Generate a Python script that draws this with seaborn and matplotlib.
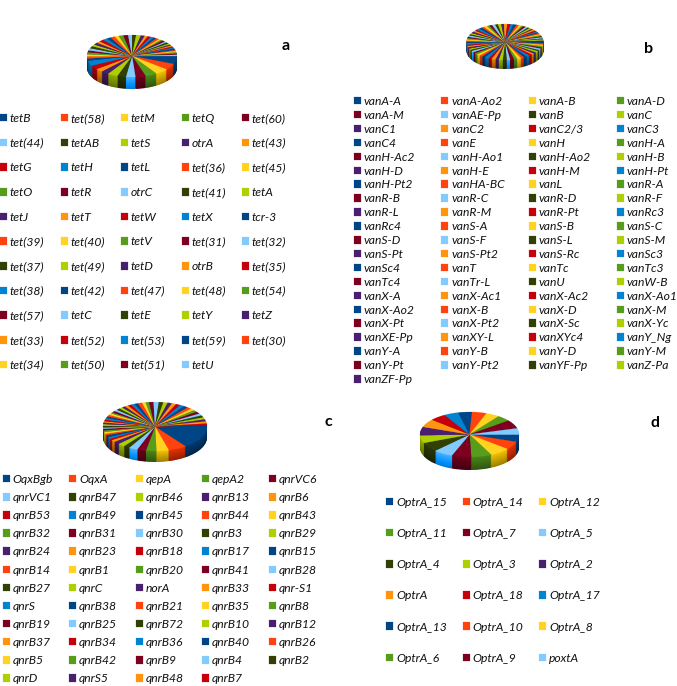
import colorsys

import matplotlib
matplotlib.use('Agg')
import matplotlib.pyplot as plt
import seaborn as sns

W, H = 677, 686

colours = ['#004586', '#ff420e', '#ffd320', '#579d1c', '#7e0021', '#83caff',
           '#314004', '#aecf00', '#4b1f6f', '#ff950e', '#c5000b', '#0084d1']

tet_labels = ['tetB', 'tet(58)', 'tetM', 'tetQ', 'tet(60)',
              'tet(44)', 'tetAB', 'tetS', 'otrA', 'tet(43)',
              'tetG', 'tetH', 'tetL', 'tet(36)', 'tet(45)',
              'tetO', 'tetR', 'otrC', 'tet(41)', 'tetA',
              'tetJ', 'tetT', 'tetW', 'tetX', 'tcr-3',
              'tet(39)', 'tet(40)', 'tetV', 'tet(31)', 'tet(32)',
              'tet(37)', 'tet(49)', 'tetD', 'otrB', 'tet(35)',
              'tet(38)', 'tet(42)', 'tet(47)', 'tet(48)', 'tet(54)',
              'tet(57)', 'tetC', 'tetE', 'tetY', 'tetZ',
              'tet(33)', 'tet(52)', 'tet(53)', 'tet(59)', 'tet(30)',
              'tet(34)', 'tet(50)', 'tet(51)', 'tetU']
tet_values = [22, 17, 17, 15, 13, 12, 11, 13, 10, 9, 11, 14,
              6, 6, 5, 6, 5, 6, 6, 5, 6, 5, 6, 6, 5, 6, 5, 6, 6, 5, 5,
              6, 5, 4, 4, 4, 4, 4, 3, 3, 4, 3, 4, 3, 3, 3, 3, 3, 4, 3, 3, 4, 3, 3]

van_labels = ['vanA-A', 'vanA-Ao2', 'vanA-B', 'vanA-D',
              'vanA-M', 'vanAE-Pp', 'vanB', 'vanC',
              'vanC1', 'vanC2', 'vanC2/3', 'vanC3',
              'vanC4', 'vanE', 'vanH', 'vanH-A',
              'vanH-Ac2', 'vanH-Ao1', 'vanH-Ao2', 'vanH-B',
              'vanH-D', 'vanH-E', 'vanH-M', 'vanH-Pt',
              'vanH-Pt2', 'vanHA-BC', 'vanL', 'vanR-A',
              'vanR-B', 'vanR-C', 'vanR-D', 'vanR-F',
              'vanR-L', 'vanR-M', 'vanR-Pt', 'vanRc3',
              'vanRc4', 'vanS-A', 'vanS-B', 'vanS-C',
              'vanS-D', 'vanS-F', 'vanS-L', 'vanS-M',
              'vanS-Pt', 'vanS-Pt2', 'vanS-Rc', 'vanSc3',
              'vanSc4', 'vanT', 'vanTc', 'vanTc3',
              'vanTc4', 'vanTr-L', 'vanU', 'vanW-B',
              'vanX-A', 'vanX-Ac1', 'vanX-Ac2', 'vanX-Ao1',
              'vanX-Ao2', 'vanX-B', 'vanX-D', 'vanX-M',
              'vanX-Pt', 'vanX-Pt2', 'vanX-Sc', 'vanX-Yc',
              'vanXE-Pp', 'vanXY-L', 'vanXYc4', 'vanY_Ng',
              'vanY-A', 'vanY-B', 'vanY-D', 'vanY-M',
              'vanY-Pt', 'vanY-Pt2', 'vanYF-Pp', 'vanZ-Pa',
              'vanZF-Pp']
van_values = [5, 4, 4, 5, 4, 5, 4, 5, 5, 4, 5, 5, 5, 5, 6, 5, 6, 5, 6, 6, 5,
              6, 5, 6, 5, 5, 5, 5, 4, 5, 4, 4, 5, 4, 4, 5, 4, 4, 4, 4, 4,
              5, 4, 4, 5, 4, 4, 5, 5, 4, 5, 4, 4, 5, 4, 5, 4, 5, 5, 4, 5,
              4, 4, 3, 4, 4, 3, 4, 3, 4, 4, 3, 3, 4, 3, 4, 3, 4, 3, 4, 4]

qnr_labels = ['OqxBgb', 'OqxA', 'qepA', 'qepA2', 'qnrVC6',
              'qnrVC1', 'qnrB47', 'qnrB46', 'qnrB13', 'qnrB6',
              'qnrB53', 'qnrB49', 'qnrB45', 'qnrB44', 'qnrB43',
              'qnrB32', 'qnrB31', 'qnrB30', 'qnrB3', 'qnrB29',
              'qnrB24', 'qnrB23', 'qnrB18', 'qnrB17', 'qnrB15',
              'qnrB14', 'qnrB1', 'qnrB20', 'qnrB41', 'qnrB28',
              'qnrB27', 'qnrC', 'norA', 'qnrB33', 'qnr-S1',
              'qnrS', 'qnrB38', 'qnrB21', 'qnrB35', 'qnrB8',
              'qnrB19', 'qnrB25', 'qnrB72', 'qnrB10', 'qnrB12',
              'qnrB37', 'qnrB34', 'qnrB36', 'qnrB40', 'qnrB26',
              'qnrB5', 'qnrB42', 'qnrB9', 'qnrB4', 'qnrB2',
              'qnrD', 'qnrS5', 'qnrB48', 'qnrB7']
qnr_values = [58, 21, 14, 12, 10, 10, 7, 8, 7,
              5, 4, 4, 5, 4, 4, 4, 4, 3, 4, 4, 4, 3, 4, 4, 4, 4, 4, 3, 4, 4, 4, 4, 4, 4, 4,
              4, 4, 5, 4, 4, 5, 6, 5,
              5, 5, 5, 5, 5, 5, 5, 5, 5, 5, 5, 5, 5, 5, 5, 4]

optr_labels = ['OptrA_15', 'OptrA_14', 'OptrA_12',
               'OptrA_11', 'OptrA_7', 'OptrA_5',
               'OptrA_4', 'OptrA_3', 'OptrA_2',
               'OptrA', 'OptrA_18', 'OptrA_17',
               'OptrA_13', 'OptrA_10', 'OptrA_8',
               'OptrA_6', 'OptrA_9', 'poxtA']
optr_values = [19, 21, 24, 24, 23, 23, 24, 20, 22, 21, 19, 17, 16, 17, 16, 16, 22, 16]

sns.set_theme(style='white')
plt.rcParams['font.family'] = ['Lato', 'DejaVu Sans']
palette = sns.color_palette(colours)

fig = plt.figure(figsize=(W / 100, H / 100), dpi=100)


def shade(colour, factor):
    h, l, s = colorsys.rgb_to_hls(*colour)
    return colorsys.hls_to_rgb(h, l * factor, s)


def pie_3d(values, cx, top, rx, ry, thick, start=0):
    # flat pies stacked on each other, squashed by the axes aspect
    ax = fig.add_axes([(cx - rx) / W, 1 - (top + 2 * ry + thick) / H, 2 * rx / W, (2 * ry + thick) / H])
    cols = [palette[i % 12] for i in range(len(values))]
    n = int(thick * 2)
    for k in range(n, 0, -1):
        f = 0.85 - 0.30 * k / n
        side = [shade(c, f) for c in cols]
        ax.pie(values, colors=side, center=(0, -k / n * thick / ry), startangle=start,
               counterclock=False, wedgeprops={'linewidth': 0})
    wedges, _ = ax.pie(values, colors=cols, startangle=start, counterclock=False,
                       wedgeprops={'linewidth': 0.15})
    for w in wedges:
        w.set_edgecolor(w.get_facecolor())
    ax.set_aspect('auto')
    ax.set_xlim(-1, 1)
    ax.set_ylim(-1 - thick / ry, 1)
    ax.axis('off')
    return wedges


def legend_cols(wedges, labels, ncols, x0, dx, y0, dy, size=8.7):
    px = size * 100 / 72
    for c in range(ncols):
        fig.legend(wedges[c::ncols], labels[c::ncols], loc='upper left',
                   bbox_to_anchor=((x0 + c * dx) / W, 1 - (y0 - 5) / H),
                   frameon=False, borderpad=0, borderaxespad=0,
                   handlelength=7 / px, handleheight=7 / px, handletextpad=3 / px,
                   labelspacing=(dy - px * 0.91) / px,
                   prop={'style': 'italic', 'size': size}, labelcolor='#111111')


a = pie_3d(tet_values, 132, 35, 45, 21, 12)
legend_cols(a, tet_labels, 5, 0, 60.5, 118, 24.67)

b = pie_3d(van_values, 505, 24, 38.5, 18, 9)
legend_cols(b, van_labels, 4, 353.5, 87.7, 101, 13.9)

c = pie_3d(qnr_values, 155, 402, 52, 24.5, 11, start=3)
legend_cols(c, qnr_labels, 5, 2.5, 66.5, 479, 18.1)

d = pie_3d(optr_values, 469.5, 412, 49.5, 22.5, 13)
legend_cols(d, optr_labels, 3, 386, 76.5, 501.7, 31.2)

for letter, x, y in [('a', 286, 46), ('b', 649, 49), ('c', 328, 422), ('d', 655, 423)]:
    fig.text(x / W, 1 - y / H, letter, fontsize=11.5, fontweight='bold', color='black', ha='center', va='center')

fig.savefig('out.png', dpi=100)
